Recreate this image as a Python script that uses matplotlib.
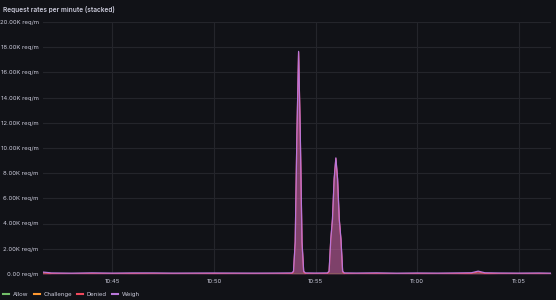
import pandas as pd
import numpy as np
import matplotlib.pyplot as plt
import matplotlib.dates as mdates

plt.rcParams['font.family'] = ['Inter', 'DejaVu Sans']

# Data (req/m)
times = ["10:41:30", "10:42:00", "10:43:00", "10:44:00", "10:45:00", "10:46:00", "10:47:00",
         "10:48:00", "10:49:00", "10:50:00", "10:51:00", "10:52:00", "10:53:00", "10:53:50",
         "10:53:55", "10:54:00", "10:54:05", "10:54:10", "10:54:15", "10:54:20", "10:54:25",
         "10:54:30", "10:55:00", "10:55:35", "10:55:40", "10:55:45", "10:55:50", "10:55:55",
         "10:56:00", "10:56:05", "10:56:10", "10:56:15", "10:56:20", "10:56:25", "10:57:00",
         "10:58:00", "10:59:00", "11:00:00", "11:01:00", "11:02:00", "11:02:40", "11:03:00",
         "11:03:20", "11:04:00", "11:05:00", "11:06:00", "11:06:35"]
allow = [0] * len(times)
challenge = [0] * len(times)
denied = [120, 20, 10, 15, 10, 20, 10, 15, 10, 20, 10, 15, 10, 20,
          150, 2500, 11000, 17600, 11000, 2500, 150,
          20, 10, 20, 150, 2700, 4300, 7500,
          9150, 7500, 4300, 2700, 150, 20, 10,
          15, 10, 15, 10, 20, 40, 160,
          40, 15, 10, 15, 10]
weigh = [40, 60, 50, 70, 55, 60, 70, 50, 60, 55, 60, 50, 60, 60,
         60, 60, 60, 60, 60, 60, 60,
         60, 60, 60, 60, 60, 60, 60,
         60, 60, 60, 60, 60, 60, 60,
         70, 50, 60, 55, 60, 50, 60,
         50, 60, 55, 60, 50]

series_names = ["Allow", "Challenge", "Denied", "Weigh"]
series_colors = ["#73BF69", "#FF9830", "#F2495C", "#B877D9"]

bg = "#111217"
text_col = "#ccccdc"
grid_col = "#24252b"

t = pd.to_datetime(["2024-01-01 " + s for s in times])
values = [np.array(allow), np.array(challenge), np.array(denied), np.array(weigh)]

fig = plt.figure(figsize=(5.56, 3.0), dpi=100, facecolor=bg)
ax = fig.add_axes([0.077, 0.087, 0.914, 0.84], facecolor=bg)

base = np.zeros(len(times))
tops = []
for v in values:
    base = base + v
    tops.append(base.copy())
for col, top in zip(series_colors, tops):
    ax.fill_between(t, 0, top, color=col, alpha=0.35, linewidth=0)
for col, top in zip(series_colors, tops):
    ax.plot(t, top, color=col, linewidth=0.9)

ax.set_ylim(0, 20000)
ax.set_xlim(pd.Timestamp("2024-01-01 10:41:35"), pd.Timestamp("2024-01-01 11:06:35"))
ax.set_yticks(np.arange(0, 20001, 2000))
ax.set_yticklabels(["0.00 req/m"] + [f"{v / 1000:.2f}K req/m" for v in range(2000, 20001, 2000)])
ax.xaxis.set_major_locator(mdates.MinuteLocator(byminute=range(0, 60, 5)))
ax.xaxis.set_major_formatter(mdates.DateFormatter("%H:%M"))

ax.grid(True, color=grid_col, linewidth=0.8)
ax.set_axisbelow(True)
for s in ax.spines.values():
    s.set_visible(False)
ax.tick_params(colors=text_col, labelsize=4.3, length=0, pad=3)
ax.tick_params(axis="x", pad=4)

fig.text(0.006, 0.968, "Request rates per minute (stacked)", color=text_col,
         fontsize=4.7, fontweight="semibold", va="center")

# legend
handles = [plt.Line2D([], [], color=c, linewidth=1.5) for c in series_colors]
fig.legend(handles, series_names, loc="lower left", bbox_to_anchor=(-0.004, -0.008), ncol=4,
           frameon=False, fontsize=4.3, labelcolor=text_col, handlelength=1.0,
           handletextpad=0.6, columnspacing=0.9)

fig.savefig("out.png", dpi=100, facecolor=bg)
